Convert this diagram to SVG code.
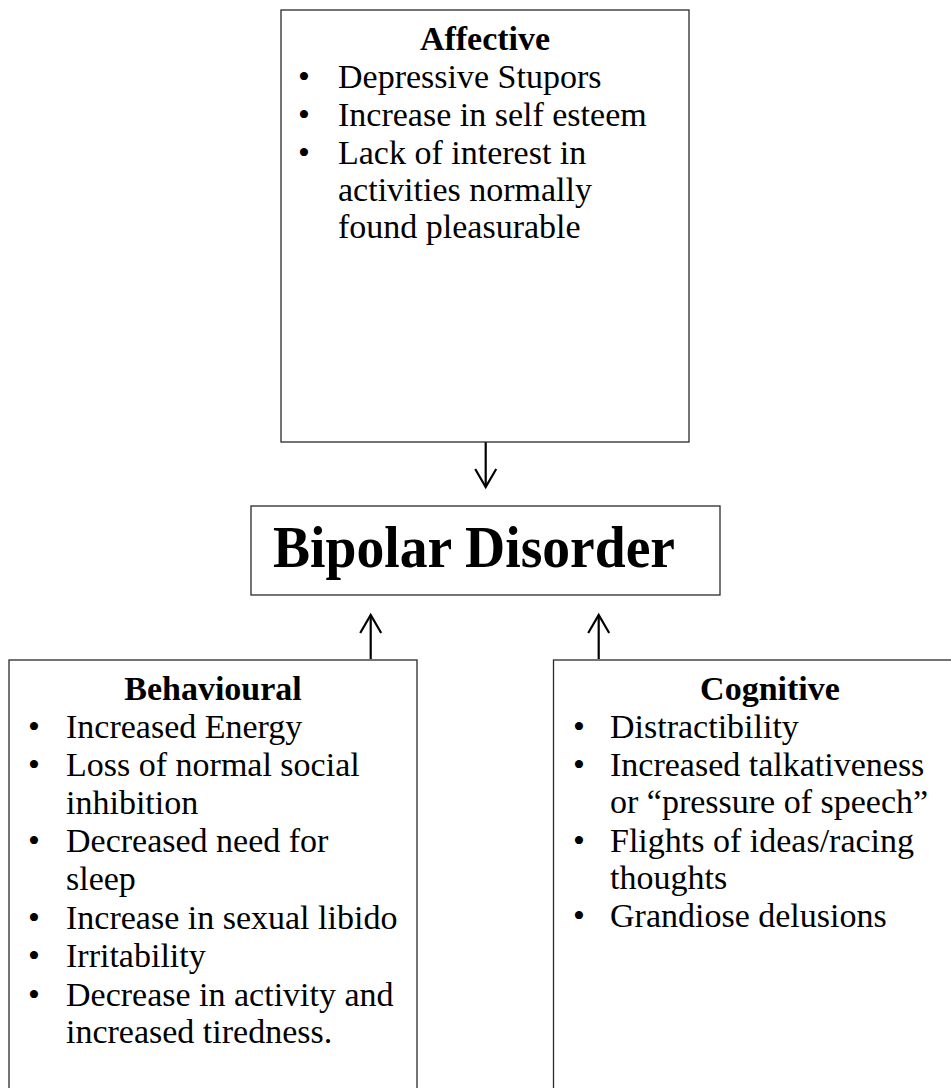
<svg xmlns="http://www.w3.org/2000/svg" width="951" height="1088" viewBox="0 0 951 1088">
<style>
.box{fill:#fff;stroke:#2a2a2a;stroke-width:1.3}
.t{font-family:"Liberation Serif","Times New Roman",serif;font-size:34px;fill:#000}
.h{font-family:"Liberation Serif","Times New Roman",serif;font-size:34px;font-weight:bold;fill:#000;text-anchor:middle}
.b{text-anchor:middle}
.big{font-family:"Liberation Serif","Times New Roman",serif;font-size:60px;font-weight:bold;fill:#000}
.conn{stroke:#000;stroke-width:2.2;fill:none}
</style>
<defs>
<marker id="arr" viewBox="0 0 22 24" refX="20" refY="12" markerWidth="22" markerHeight="24" markerUnits="userSpaceOnUse" orient="auto" overflow="visible">
<path d="M2,1.5 L20,12 L2,22.5" fill="none" stroke="#000" stroke-width="2.2"/>
</marker>
</defs>
<rect width="951" height="1088" fill="#fff"/>
<g id="connectors">
<line class="conn" x1="485.7" y1="442" x2="485.7" y2="487" marker-end="url(#arr)"/>
<line class="conn" x1="370.7" y1="659" x2="370.7" y2="615" marker-end="url(#arr)"/>
<line class="conn" x1="598.7" y1="659" x2="598.7" y2="615" marker-end="url(#arr)"/>
</g>
<g id="affective">
<rect class="box" x="281" y="10" width="408" height="432"/>
<text class="h" x="485" y="50">Affective</text>
<text class="t b" x="304" y="88">•</text><text class="t" x="338" y="88">Depressive Stupors</text>
<text class="t b" x="304" y="126">•</text><text class="t" x="338" y="126">Increase in self esteem</text>
<text class="t b" x="304" y="164">•</text><text class="t" x="338" y="164">Lack of interest in</text>
<text class="t" x="338" y="201">activities normally</text>
<text class="t" x="338" y="238">found pleasurable</text>
</g>
<g id="bipolar">
<rect class="box" x="251" y="506" width="469" height="89"/>
<text class="big" x="273" y="567" textLength="402" lengthAdjust="spacingAndGlyphs">Bipolar Disorder</text>
</g>
<g id="behavioural">
<rect class="box" x="9" y="660" width="408" height="460"/>
<text class="h" x="213" y="700">Behavioural</text>
<text class="t b" x="34" y="738">•</text><text class="t" x="66" y="738">Increased Energy</text>
<text class="t b" x="34" y="776">•</text><text class="t" x="66" y="776">Loss of normal social</text>
<text class="t" x="66" y="814">inhibition</text>
<text class="t b" x="34" y="852">•</text><text class="t" x="66" y="852">Decreased need for</text>
<text class="t" x="66" y="890">sleep</text>
<text class="t b" x="34" y="929">•</text><text class="t" x="66" y="929">Increase in sexual libido</text>
<text class="t b" x="34" y="967">•</text><text class="t" x="66" y="967">Irritability</text>
<text class="t b" x="34" y="1006">•</text><text class="t" x="66" y="1006">Decrease in activity and</text>
<text class="t" x="66" y="1043">increased tiredness.</text>
</g>
<g id="cognitive">
<rect class="box" x="553.5" y="660" width="450" height="460"/>
<text class="h" x="770" y="700">Cognitive</text>
<text class="t b" x="579" y="738">•</text><text class="t" x="610" y="738">Distractibility</text>
<text class="t b" x="579" y="776">•</text><text class="t" x="610" y="776">Increased talkativeness</text>
<text class="t" x="610" y="813">or “pressure of speech”</text>
<text class="t b" x="579" y="852">•</text><text class="t" x="610" y="852">Flights of ideas/racing</text>
<text class="t" x="610" y="889">thoughts</text>
<text class="t b" x="579" y="927">•</text><text class="t" x="610" y="927">Grandiose delusions</text>
</g>
</svg>
